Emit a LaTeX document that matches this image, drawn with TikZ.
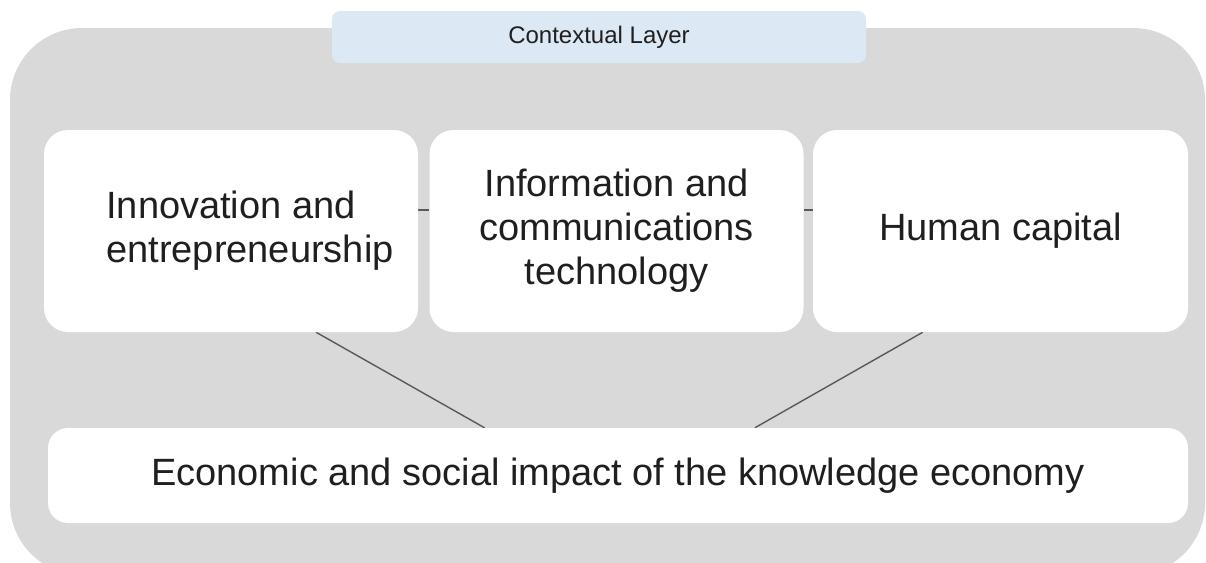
\documentclass[tikz,border=0pt]{standalone}
\usepackage{fontspec}
\setmainfont{Liberation Sans}
\usetikzlibrary{calc}
\pgfdeclarelayer{panel}
\pgfdeclarelayer{links}
\pgfsetlayers{panel,links,main}
\definecolor{panelgray}{HTML}{D9D9D9}
\definecolor{labelblue}{HTML}{DDE8F5}
\definecolor{linkgray}{HTML}{595959}
\definecolor{txt}{HTML}{1F1F1F}
\begin{document}
\begin{tikzpicture}[x=1pt,y=-1pt,
  card/.style={fill=white, draw=none, rounded corners=24pt, inner sep=0pt, text=txt},
  link/.style={draw=linkgray, line width=1.4pt},
  big/.style={font=\fontsize{38}{44}\selectfont, text=txt, align=center}]
\useasboundingbox (0,0) rectangle (1206,562);
\begin{pgfonlayer}{panel}
\begin{scope}
\clip (0,0) rectangle (1206,562);
\fill[panelgray, rounded corners=72pt] (10,28) rectangle (1205,575);
\end{scope}
\end{pgfonlayer}
\node[card, minimum width=374pt, minimum height=202pt] (b1) at (231,231) {};
\node[big, align=left, inner sep=0pt] (t1) at (250,231) {Innovation and\\entrepreneurship};
\node[card, big, minimum width=374pt, minimum height=202pt] (b2) at (616.5,231) {Information and\\communications\\technology};
\node[card, big, minimum width=375pt, minimum height=202pt] (b3) at (1000.5,231) {Human capital};
\node[card, big, rounded corners=20pt, minimum width=1140pt, minimum height=95pt] (b4) at (618,475.5) {Economic and social impact of the knowledge economy};
\node[fill=labelblue, draw=none, rounded corners=8pt, inner sep=0pt, minimum width=534pt, minimum height=52pt, font=\fontsize{24}{28}\selectfont, text=txt] (lab) at (599,37) {Contextual Layer};
\begin{pgfonlayer}{links}
\draw[link] ($(b1.east)+(0,-21)$) -- ($(b2.west)+(0,-21)$);
\draw[link] ($(b2.east)+(0,-21)$) -- ($(b3.west)+(0,-21)$);
\draw[link] ($(b1.south west)!0.727!(b1.south east)$) -- ($(b4.north west)!0.383!(b4.north east)$);
\draw[link] ($(b3.south west)!0.293!(b3.south east)$) -- ($(b4.north west)!0.620!(b4.north east)$);
\end{pgfonlayer}
\end{tikzpicture}
\end{document}
